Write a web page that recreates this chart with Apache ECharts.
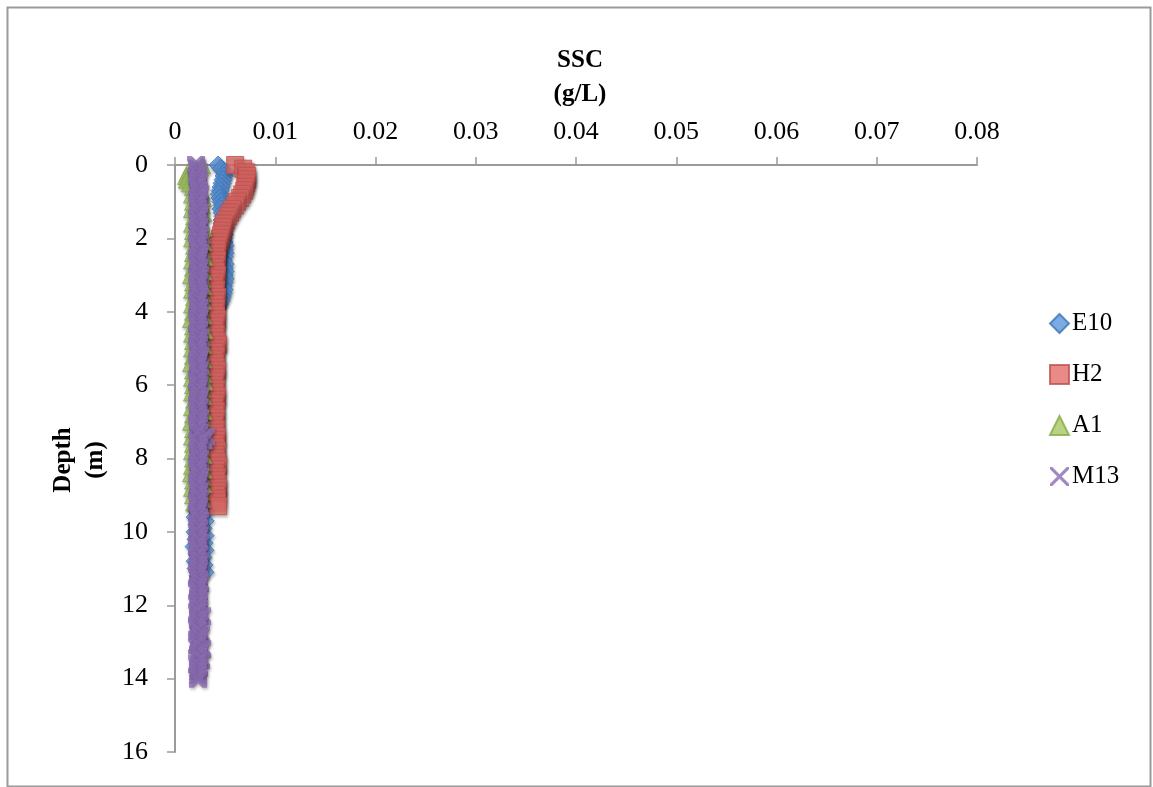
<!DOCTYPE html>
<html>
<head>
<meta charset="utf-8">
<script src="https://cdn.jsdelivr.net/npm/echarts@6/dist/echarts.min.js"></script>
<style>
html,body{margin:0;padding:0;background:#fff;}
#chart{width:1153px;height:787px;}
</style>
</head>
<body>
<div id="chart"></div>
<script>
// Depths (m), shared by all profiles
var depths = [
  0.0,0.1,0.2,0.3,0.4,0.5,0.6,0.7,0.8,0.9,
  1.0,1.1,1.2,1.3,1.4,1.5,1.6,1.7,1.8,1.9,
  2.0,2.1,2.2,2.3,2.4,2.5,2.6,2.7,2.8,2.9,
  3.0,3.1,3.2,3.3,3.4,3.5,3.6,3.7,3.8,3.9,
  4.0,4.1,4.2,4.3,4.4,4.5,4.6,4.7,4.8,4.9,
  5.0,5.1,5.2,5.3,5.4,5.5,5.6,5.7,5.8,5.9,
  6.0,6.1,6.2,6.3,6.4,6.5,6.6,6.7,6.8,6.9,
  7.0,7.1,7.2,7.3,7.4,7.5,7.6,7.7,7.8,7.9,
  8.0,8.1,8.2,8.3,8.4,8.5,8.6,8.7,8.8,8.9,
  9.0,9.1,9.2,9.3,9.4,9.5,9.6,9.7,9.8,9.9,
  10.0,10.1,10.2,10.3,10.4,10.5,10.6,10.7,10.8,10.9,
  11.0,11.1,11.2,11.3,11.4,11.5,11.6,11.7,11.8,11.9,
  12.0,12.1,12.2,12.3,12.4,12.5,12.6,12.7,12.8,12.9,
  13.0,13.1,13.2,13.3,13.4,13.5,13.6,13.7,13.8,13.9,
  14.0];

// SSC (g/L) for each station, index aligned with depths
var E10 = [
  0.0043,0.0046,0.0050,0.0049,0.0048,0.0047,0.0046,0.0045,0.0044,0.0045,
  0.0046,0.0047,0.0046,0.0047,0.0048,0.0047,0.0048,0.0049,0.0048,0.0049,
  0.0048,0.0049,0.0050,0.0049,0.0050,0.0049,0.0048,0.0050,0.0049,0.0050,
  0.0049,0.0050,0.0049,0.0048,0.0049,0.0048,0.0047,0.0046,0.0044,0.0042,
  0.0040,0.0039,0.0038,0.0037,0.0038,0.0039,0.0037,0.0038,0.0036,0.0038,
  0.0037,0.0039,0.0038,0.0036,0.0037,0.0038,0.0039,0.0037,0.0038,0.0036,
  0.0038,0.0037,0.0039,0.0038,0.0037,0.0036,0.0038,0.0039,0.0037,0.0038,
  0.0036,0.0038,0.0037,0.0039,0.0038,0.0037,0.0038,0.0036,0.0037,0.0039,
  0.0038,0.0037,0.0036,0.0038,0.0039,0.0037,0.0038,0.0037,0.0036,0.0038,
  0.0038,0.0037,0.0038,0.0031,0.0021,0.0029,0.0020,0.0030,0.0022,0.0028,
  0.0020,0.0030,0.0021,0.0029,0.0019,0.0030,0.0022,0.0028,0.0020,0.0029,
  0.0021,0.0030,0.0023];

var H2 = [
  0.0060,0.0068,0.0071,0.0072,0.0072,0.0071,0.0070,0.0069,0.0067,0.0065,
  0.0062,0.0060,0.0057,0.0055,0.0053,0.0051,0.0049,0.0048,0.0047,0.0046,
  0.0045,0.0044,0.0043,0.0042,0.0042,0.0041,0.0042,0.0041,0.0040,0.0041,
  0.0042,0.0041,0.0040,0.0039,0.0041,0.0040,0.0042,0.0041,0.0040,0.0041,
  0.0040,0.0041,0.0042,0.0041,0.0040,0.0039,0.0041,0.0040,0.0042,0.0043,
  0.0041,0.0040,0.0041,0.0039,0.0040,0.0041,0.0042,0.0040,0.0041,0.0040,
  0.0039,0.0041,0.0040,0.0042,0.0041,0.0040,0.0039,0.0041,0.0040,0.0041,
  0.0040,0.0039,0.0041,0.0040,0.0042,0.0041,0.0040,0.0041,0.0042,0.0040,
  0.0041,0.0042,0.0043,0.0041,0.0040,0.0042,0.0041,0.0042,0.0043,0.0042,
  0.0041,0.0042,0.0042,0.0043];

var A1 = [
  0.0027,0.0022,0.0013,0.0011,0.0012,0.0015,0.0018,0.0026,0.0017,0.0028,
  0.0018,0.0027,0.0017,0.0028,0.0019,0.0026,0.0017,0.0028,0.0018,0.0027,
  0.0017,0.0028,0.0019,0.0027,0.0018,0.0029,0.0017,0.0026,0.0018,0.0028,
  0.0016,0.0027,0.0018,0.0028,0.0017,0.0027,0.0019,0.0028,0.0017,0.0026,
  0.0018,0.0028,0.0016,0.0027,0.0018,0.0029,0.0017,0.0027,0.0018,0.0028,
  0.0017,0.0026,0.0018,0.0028,0.0016,0.0027,0.0018,0.0028,0.0017,0.0029,
  0.0018,0.0027,0.0017,0.0028,0.0019,0.0026,0.0017,0.0028,0.0018,0.0027,
  0.0016,0.0028,0.0018,0.0027,0.0017,0.0029,0.0018,0.0026,0.0017,0.0028,
  0.0018,0.0027,0.0017,0.0028,0.0016,0.0027,0.0018,0.0028,0.0017,0.0026,
  0.0018,0.0027,0.0019];

var M13 = [
  0.0021,0.0022,0.0023,0.0022,0.0024,0.0023,0.0022,0.0024,0.0025,0.0023,
  0.0024,0.0022,0.0023,0.0025,0.0024,0.0022,0.0023,0.0024,0.0022,0.0025,
  0.0023,0.0024,0.0022,0.0023,0.0025,0.0024,0.0023,0.0022,0.0024,0.0023,
  0.0025,0.0023,0.0024,0.0022,0.0023,0.0024,0.0025,0.0023,0.0022,0.0024,
  0.0023,0.0025,0.0024,0.0022,0.0023,0.0024,0.0022,0.0025,0.0023,0.0024,
  0.0022,0.0023,0.0025,0.0024,0.0023,0.0022,0.0024,0.0023,0.0025,0.0022,
  0.0024,0.0023,0.0022,0.0025,0.0024,0.0023,0.0024,0.0022,0.0023,0.0025,
  0.0023,0.0024,0.0022,0.0024,0.0031,0.0028,0.0023,0.0024,0.0022,0.0023,
  0.0025,0.0023,0.0024,0.0022,0.0023,0.0025,0.0024,0.0023,0.0022,0.0024,
  0.0023,0.0025,0.0022,0.0024,0.0023,0.0022,0.0024,0.0025,0.0023,0.0024,
  0.0022,0.0024,0.0023,0.0025,0.0022,0.0023,0.0024,0.0022,0.0025,0.0023,
  0.0024,0.0023,0.0022,0.0024,0.0025,0.0023,0.0022,0.0024,0.0023,0.0024,
  0.0023,0.0024,0.0022,0.0027,0.0023,0.0024,0.0022,0.0023,0.0026,0.0024,
  0.0023,0.0022,0.0027,0.0024,0.0023,0.0026,0.0022,0.0024,0.0023,0.0023,
  0.0023];

var seriesNames = ['E10','H2','A1','M13'];
var xTicks = [0,0.01,0.02,0.03,0.04,0.05,0.06,0.07,0.08];
var yTicks = [0,2,4,6,8,10,12,14,16];

function pairs(vals){
  var out = [];
  for (var i = 0; i < vals.length; i++) out.push([vals[i], depths[i]]);
  return out;
}

var xThick = 'path://M0,0L2.6,0L5,2.4L7.4,0L10,0L10,2.6L7.6,5L10,7.4L10,10L7.4,10L5,7.6L2.6,10L0,10L0,7.4L2.4,5L0,2.6Z';
var xThin = 'path://M0,0L1.2,0L5,3.8L8.8,0L10,0L10,1.2L6.2,5L10,8.8L10,10L8.8,10L5,6.2L1.2,10L0,10L0,8.8L3.8,5L0,1.2Z';

var serif = "'Liberation Serif','DejaVu Serif',serif";
var titleFont = "bold 25px 'Liberation Serif'";
var axisGray = '#9a9a9a';

function style(color, border){
  return {color: color, borderColor: border, borderWidth: 1,
    shadowBlur: 3, shadowColor: 'rgba(0,0,0,0.35)', shadowOffsetX: 1, shadowOffsetY: 2};
}

var chart = echarts.init(document.getElementById('chart'), null, {renderer: 'canvas'});
chart.setOption({
  animation: false,
  backgroundColor: '#ffffff',
  grid: {left: 175, right: 176, top: 165, bottom: 35},
  xAxis: {
    type: 'value', position: 'top', min: 0, max: 0.08, interval: 0.01,
    axisLine: {show: true, onZero: false, lineStyle: {color: axisGray, width: 2}},
    axisTick: {show: true, inside: false, length: 8, lineStyle: {color: axisGray, width: 1.5}},
    axisLabel: {margin: 20, color: '#000', fontFamily: serif, fontSize: 26,
      formatter: function(v){ var i = Math.round(v * 100); return String(xTicks[i]); }},
    splitLine: {show: false}
  },
  yAxis: {
    type: 'value', inverse: true, min: 0, max: 16, interval: 2,
    axisLine: {show: true, onZero: false, lineStyle: {color: axisGray, width: 2}},
    axisTick: {show: true, inside: false, length: 8, lineStyle: {color: axisGray, width: 1.5}},
    axisLabel: {margin: 27, color: '#000', fontFamily: serif, fontSize: 26,
      formatter: function(v){ return String(yTicks[Math.round(v / 2)]); }},
    splitLine: {show: false}
  },
  legend: {
    orient: 'vertical', left: 1044, top: 306, itemWidth: 19, itemHeight: 19, itemGap: 26,
    textStyle: {fontFamily: serif, fontSize: 25, color: '#000', padding: [0,0,0,-2]},
    data: [
      {name: 'E10', icon: 'diamond'},
      {name: 'H2', icon: 'rect'},
      {name: 'A1', icon: 'triangle'},
      {name: 'M13', icon: xThin}
    ]
  },
  series: [
    {name: seriesNames[0], type: 'scatter', symbol: 'diamond', symbolSize: 18,
      itemStyle: style('#5b96da', '#3b73b9'), data: pairs(E10)},
    {name: seriesNames[1], type: 'scatter', symbol: 'rect', symbolSize: 17,
      itemStyle: style('#e26d6a', '#c0504d'), data: pairs(H2)},
    {name: seriesNames[2], type: 'scatter', symbol: 'triangle', symbolSize: 17,
      itemStyle: style('#a6c964', '#87a94a'), data: pairs(A1)},
    {name: seriesNames[3], type: 'scatter', symbol: xThick, symbolSize: 18,
      itemStyle: {color: '#8b6bb2', shadowBlur: 3, shadowColor: 'rgba(0,0,0,0.3)', shadowOffsetX: 1, shadowOffsetY: 2},
      data: pairs(M13)}
  ],
  graphic: [
    {type: 'rect', left: 5, top: 5, shape: {width: 1143, height: 779},
      style: {fill: 'none', stroke: '#9a9a9a', lineWidth: 2}, silent: true, z: -1},
    {type: 'text', x: 580, y: 61, style: {text: 'SSC', font: titleFont, fill: '#000', textAlign: 'center', textVerticalAlign: 'middle'}},
    {type: 'text', x: 580, y: 95, style: {text: '(g/L)', font: titleFont, fill: '#000', textAlign: 'center', textVerticalAlign: 'middle'}},
    {type: 'text', x: 64, y: 460, rotation: Math.PI / 2, style: {text: 'Depth', font: titleFont, fill: '#000', textAlign: 'center', textVerticalAlign: 'middle'}},
    {type: 'text', x: 96, y: 460, rotation: Math.PI / 2, style: {text: '(m)', font: titleFont, fill: '#000', textAlign: 'center', textVerticalAlign: 'middle'}}
  ]
});
</script>
</body>
</html>
